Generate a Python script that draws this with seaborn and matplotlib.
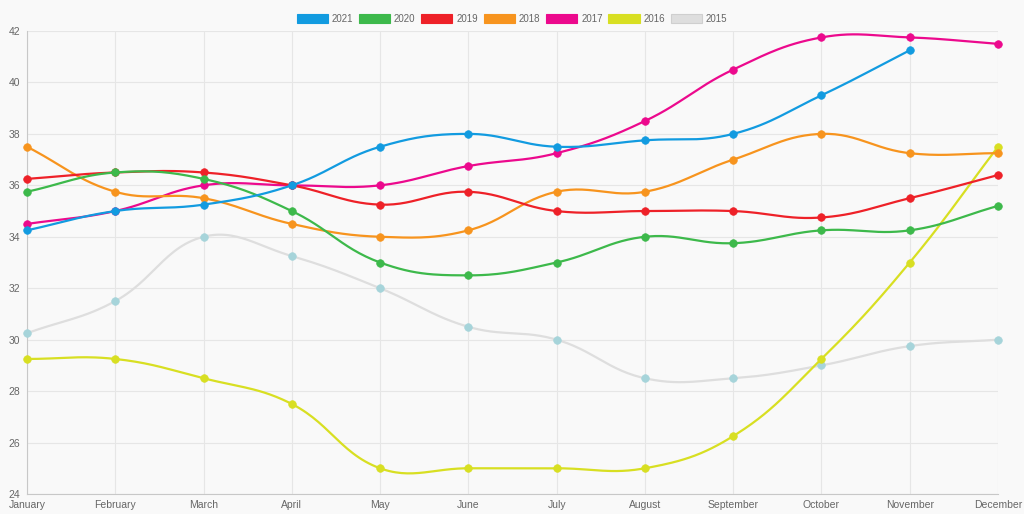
import numpy as np
import pandas as pd
import matplotlib
matplotlib.use("Agg")
import matplotlib.pyplot as plt
from matplotlib.patches import Patch
import seaborn as sns

months = ["January", "February", "March", "April", "May", "June", "July",
          "August", "September", "October", "November", "December"]
years = ["2021", "2020", "2019", "2018", "2017", "2016", "2015"]

v2021 = [34.25, 35, 35.25, 36, 37.5, 38, 37.5, 37.75, 38, 39.5, 41.25, None]
v2020 = [35.75, 36.5, 36.25, 35, 33, 32.5, 33, 34, 33.75, 34.25, 34.25, 35.2]
v2019 = [36.25, 36.5, 36.5, 36, 35.25, 35.75, 35, 35, 35, 34.75, 35.5, 36.4]
v2018 = [37.5, 35.75, 35.5, 34.5, 34, 34.25, 35.75, 35.75, 37, 38, 37.25, 37.25]
v2017 = [34.5, 35, 36, 36, 36, 36.75, 37.25, 38.5, 40.5, 41.75, 41.75, 41.5]
v2016 = [29.25, 29.25, 28.5, 27.5, 25, 25, 25, 25, 26.25, 29.25, 33, 37.5]
v2015 = [30.25, 31.5, 34, 33.25, 32, 30.5, 30, 28.5, 28.5, 29, 29.75, 30]

line_colors = ["#129be0", "#3db94b", "#ee2128", "#f7941e", "#ec098d", "#d8df22", "#dedede"]
point_colors = ["#129be0", "#3db94b", "#ee2128", "#f7941e", "#ec098d", "#d8df22", "#a6d4da"]

series = [v2021, v2020, v2019, v2018, v2017, v2016, v2015]
rows = []
for yr, vals in zip(years, series):
    for i, v in enumerate(vals):
        if v is not None:
            rows.append({"year": yr, "idx": i, "value": v})
df = pd.DataFrame(rows)

sns.set_style("white")
plt.rcParams["font.family"] = ["Liberation Sans", "DejaVu Sans"]

fig = plt.figure(figsize=(10.24, 5.14), dpi=100, facecolor="#f9f9f9")
ax = fig.add_axes([27 / 1024, 20 / 514, 971 / 1024, 463 / 514])
ax.set_facecolor("#f9f9f9")
ax.set_xlim(0, 11)
ax.set_ylim(24, 42)


def bezier_path(xs, ys, tension=0.4):
    # chart.js style spline, computed in display space
    pts = ax.transData.transform(np.column_stack([xs, ys]))
    n = len(pts)
    cp_prev, cp_next = [], []
    for i in range(n):
        prev = pts[i - 1] if i > 0 else pts[i]
        cur = pts[i]
        nxt = pts[i + 1] if i < n - 1 else pts[i]
        d01 = np.hypot(*(cur - prev))
        d12 = np.hypot(*(nxt - cur))
        tot = d01 + d12
        s01 = d01 / tot if tot else 0
        s12 = d12 / tot if tot else 0
        fa, fb = tension * s01, tension * s12
        cp_prev.append(cur - fa * (nxt - prev))
        cp_next.append(cur + fb * (nxt - prev))
    out = [pts[0]]
    t = np.linspace(0, 1, 30)[1:, None]
    for i in range(n - 1):
        p0, p1, p2, p3 = pts[i], cp_next[i], cp_prev[i + 1], pts[i + 1]
        seg = ((1 - t) ** 3) * p0 + 3 * ((1 - t) ** 2) * t * p1 + 3 * (1 - t) * t ** 2 * p2 + t ** 3 * p3
        out.extend(seg)
    return ax.transData.inverted().transform(np.array(out))


for k, yr in enumerate(years):
    sub = df[df["year"] == yr]
    curve = bezier_path(sub["idx"].values, sub["value"].values)
    z = 10 - k
    ax.plot(curve[:, 0], curve[:, 1], color=line_colors[k], lw=1.6, zorder=z,
            solid_capstyle="round", clip_on=False)
    sns.scatterplot(data=sub, x="idx", y="value", color=point_colors[k], s=30,
                    edgecolor=point_colors[k], linewidth=0.5, ax=ax, zorder=z + 0.5,
                    legend=False, clip_on=False)

ax.set_xticks(range(12))
ax.set_xticklabels(months)
ax.set_yticks(range(24, 43, 2))
ax.tick_params(axis="both", labelsize=7.5, colors="#666666", length=0, pad=4)
ax.tick_params(axis="y", pad=5)
ax.set_xlabel("")
ax.set_ylabel("")
ax.grid(True, color="#e6e6e6", lw=0.8)
ax.set_axisbelow(True)
for side in ["top", "right"]:
    ax.spines[side].set_visible(False)
for side in ["left", "bottom"]:
    ax.spines[side].set_color("#c8c8c8")
    ax.spines[side].set_linewidth(0.8)

handles = [Patch(facecolor=line_colors[k], edgecolor=line_colors[k] if k < 6 else "#cfcfcf",
                 lw=0.8, label=yr) for k, yr in enumerate(years)]
leg = fig.legend(handles=handles, loc="center", bbox_to_anchor=(0.5, 1 - 19 / 514),
                 ncol=7, frameon=False, fontsize=7, handlelength=3.2, handleheight=0.95,
                 handletextpad=0.4, columnspacing=0.6)
for txt in leg.get_texts():
    txt.set_color("#666666")

fig.savefig("out.png", dpi=100, facecolor=fig.get_facecolor())
